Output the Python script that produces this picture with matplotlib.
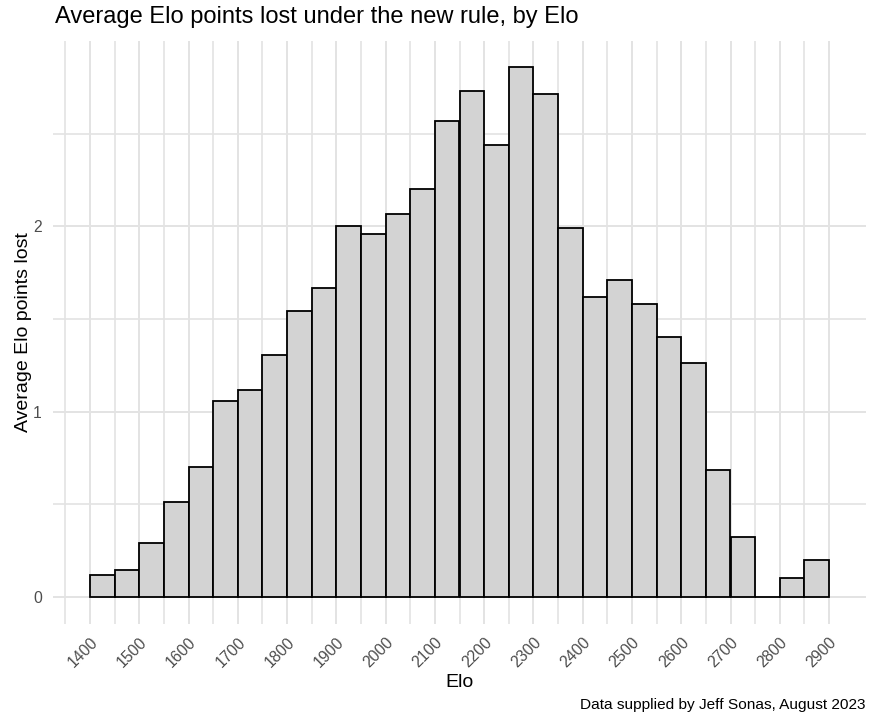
import matplotlib
matplotlib.use("Agg")
import matplotlib.pyplot as plt
import numpy as np

plt.rcParams['font.family'] = ['Liberation Sans', 'DejaVu Sans']

bin_starts = [1400, 1450, 1500, 1550, 1600, 1650, 1700, 1750, 1800, 1850,
              1900, 1950, 2000, 2050, 2100, 2150, 2200, 2250, 2300, 2350,
              2400, 2450, 2500, 2550, 2600, 2650, 2700, 2750, 2800, 2850]
avg_lost = [0.12, 0.146, 0.293, 0.512, 0.699, 1.06, 1.116, 1.305, 1.542, 1.667,
            2.0, 1.958, 2.065, 2.201, 2.57, 2.732, 2.438, 2.857, 2.715, 1.993,
            1.621, 1.713, 1.581, 1.402, 1.26, 0.683, 0.323, 0.0, 0.101, 0.201]
x_ticks = list(range(1400, 3000, 100))
y_ticks = [0, 1, 2]
bin_width = 50

title = "Average Elo points lost under the new rule, by Elo"
xlabel = "Elo"
ylabel = "Average Elo points lost"
caption = "Data supplied by Jeff Sonas, August 2023"

fig = plt.figure(figsize=(8.7, 7.15), dpi=100)
W, H = 870, 715
left, right, top, bottom = 53, 866, 41, 623.5
ax = fig.add_axes([left / W, 1 - bottom / H, (right - left) / W, (bottom - top) / H])

ax.bar(bin_starts, avg_lost, width=bin_width, align='edge', color='#D3D3D3',
       edgecolor='black', linewidth=1.3, zorder=3)

xmin, xmax = 1400, 2900
pad = 0.05 * (xmax - xmin)
ax.set_xlim(xmin - pad, xmax + pad)
ymax = max(avg_lost)
ax.set_ylim(-0.05 * ymax, ymax * 1.05)

ax.set_xticks(x_ticks)
ax.set_xticklabels([str(t) for t in x_ticks], rotation=45, ha='right',
                   va='top', rotation_mode='anchor', color='#4D4D4D', fontsize=11.3)
ax.set_xticks(np.arange(1350, 2950, 50), minor=True)
ax.set_yticks(y_ticks)
ax.set_yticklabels([str(t) for t in y_ticks], color='#4D4D4D', fontsize=11.3)
ax.set_yticks([0.5, 1.5, 2.5], minor=True)

ax.tick_params(axis='both', which='both', length=0)
ax.tick_params(axis='x', pad=8)
ax.tick_params(axis='y', pad=8)
ax.grid(True, which='major', color='#e3e3e3', linewidth=1.4, zorder=0)
ax.grid(True, which='minor', color='#e3e3e3', linewidth=1.2, zorder=0)
ax.set_axisbelow(True)
for s in ax.spines.values():
    s.set_visible(False)

ax.set_xlabel(xlabel, fontsize=14, labelpad=3)
ax.set_ylabel(ylabel, fontsize=14, labelpad=1)

fig.text(55 / W, 1 - 17 / H, title, fontsize=17, ha='left', va='center')
fig.text(866 / W, 1 - 705 / H, caption, fontsize=11.1, ha='right', va='center')

fig.savefig("out.png", dpi=100)
